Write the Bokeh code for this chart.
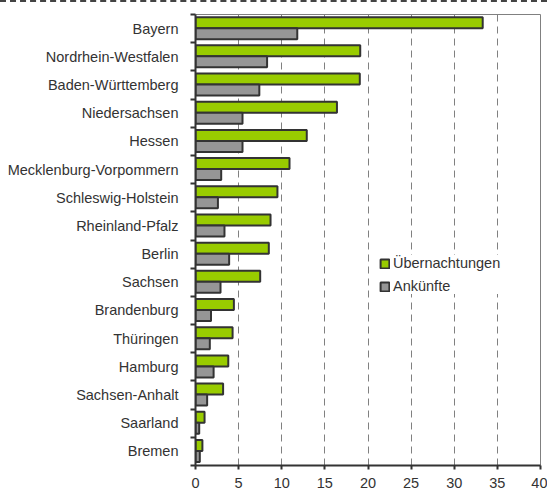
from bokeh.plotting import figure
from bokeh.models import Range1d, FixedTicker, Legend, LegendItem, ColumnDataSource
from bokeh.embed import file_html
from bokeh.resources import INLINE

states = ["Bayern", "Nordrhein-Westfalen", "Baden-Württemberg", "Niedersachsen", "Hessen",
          "Mecklenburg-Vorpommern", "Schleswig-Holstein", "Rheinland-Pfalz", "Berlin", "Sachsen",
          "Brandenburg", "Thüringen", "Hamburg", "Sachsen-Anhalt", "Saarland", "Bremen"]
uebernachtungen = [33.3, 19.1, 19.05, 16.4, 12.9, 10.9, 9.5, 8.7, 8.5, 7.5, 4.45, 4.3, 3.8, 3.2, 1.05, 0.8]
ankuenfte = [11.8, 8.3, 7.4, 5.45, 5.45, 2.98, 2.6, 3.36, 3.9, 2.9, 1.8, 1.66, 2.1, 1.35, 0.43, 0.5]
x_ticks = [0, 5, 10, 15, 20, 25, 30, 35, 40]

n = len(states)
idx = list(range(n))
FONT = "Liberation Sans"
TXT = "#333333"
FS = "14.5px"

p = figure(width=547, height=493, output_backend="svg", toolbar_location=None,
           x_range=Range1d(0, 40), y_range=Range1d(n - 0.5, -0.5),
           min_border_left=195, min_border_right=7, min_border_top=12, min_border_bottom=30)
p.styles = {"border-top": "2px dashed #444444"}
p.background_fill_color = "white"
p.border_fill_color = "white"
p.outline_line_color = "#808080"
p.outline_line_width = 1

src = ColumnDataSource(dict(
    y_g=[i - 0.21 for i in idx], y_a=[i + 0.18 for i in idx],
    u=uebernachtungen, a=ankuenfte))

rg = p.hbar(y="y_g", left=0, right="u", height=0.39, source=src,
            fill_color="#99CC00", line_color="#333333", line_width=2)
ra = p.hbar(y="y_a", left=0, right="a", height=0.39, source=src,
            fill_color="#969696", line_color="#333333", line_width=2)

# x axis
p.xaxis.ticker = FixedTicker(ticks=x_ticks)
p.xaxis.axis_line_color = "#333333"
p.xaxis.axis_line_width = 2
p.xaxis.major_tick_line_color = "#333333"
p.xaxis.major_tick_line_width = 2
p.xaxis.major_tick_in = 0
p.xaxis.major_tick_out = 4
p.xaxis.minor_tick_line_color = None
p.xaxis.major_label_text_font = FONT
p.xaxis.major_label_text_font_size = FS
p.xaxis.major_label_text_color = TXT
p.xaxis.major_label_standoff = 8

# y axis
p.yaxis.ticker = FixedTicker(ticks=idx, minor_ticks=[i - 0.5 for i in range(n + 1)])
p.yaxis.major_label_overrides = {i: s for i, s in zip(idx, states)}
p.yaxis.axis_line_color = "#333333"
p.yaxis.axis_line_width = 2
p.yaxis.major_tick_line_color = None
p.yaxis.major_tick_in = 0
p.yaxis.major_tick_out = 0
p.yaxis.minor_tick_line_color = "#333333"
p.yaxis.minor_tick_line_width = 2
p.yaxis.minor_tick_in = 0
p.yaxis.minor_tick_out = 5
p.yaxis.major_label_text_font = FONT
p.yaxis.major_label_text_font_size = FS
p.yaxis.major_label_text_color = TXT
p.yaxis.major_label_standoff = 12

# grids
p.ygrid.grid_line_color = None
p.xgrid.ticker = FixedTicker(ticks=x_ticks[1:-1])
p.xgrid.grid_line_color = "#808080"
p.xgrid.grid_line_dash = "7 5"
p.xgrid.grid_line_width = 1

legend = Legend(items=[LegendItem(label="Übernachtungen", renderers=[rg]),
                       LegendItem(label="Ankünfte", renderers=[ra])],
                location=(184, 171), padding=13, spacing=7, margin=0,
                glyph_width=11, glyph_height=11, label_height=14, label_width=130,
                label_standoff=3, label_text_font=FONT, label_text_font_size=FS,
                label_text_color=TXT, border_line_color=None,
                background_fill_color="white", background_fill_alpha=1.0)
p.add_layout(legend, "center")

open("out.html", "w").write(file_html(p, INLINE))
